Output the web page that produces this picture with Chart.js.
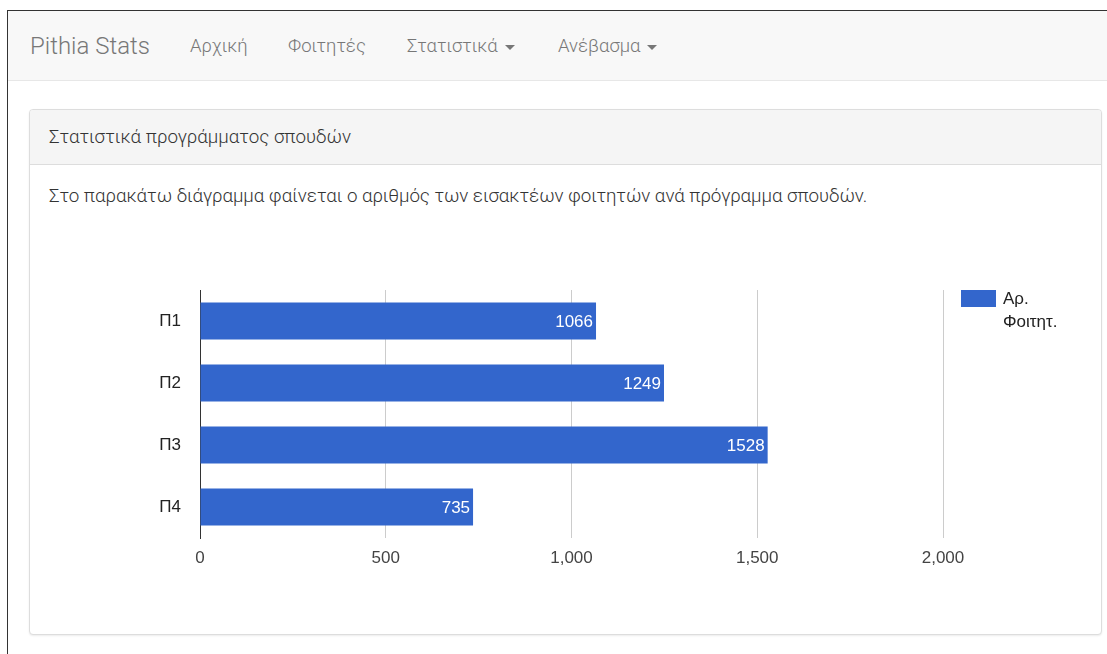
<!DOCTYPE html>
<html lang="el">
<head>
<meta charset="utf-8">
<title>Pithia Stats</title>
<script src="https://cdn.jsdelivr.net/npm/chart.js@4.4.1/dist/chart.umd.min.js"></script>
<style>
  html, body { margin: 0; padding: 0; background: #fff; }
  body { width: 1107px; height: 654px; position: relative; overflow: hidden; font-family: Roboto, "Noto Sans", sans-serif; }
  .frame { position: absolute; left: 7px; top: 10px; right: 0; bottom: 0; border-left: 1px solid #333; border-top: 1px solid #333; }
  .navbar { position: absolute; left: 0; top: 0; right: 0; height: 69px; background: #f8f8f8; border-bottom: 1px solid #e7e7e7; }
  .navbar span { position: absolute; top: 0; line-height: 71px; color: #777; font-size: 18.5px; font-weight: 300; white-space: nowrap; }
  .navbar .brand { font-size: 24px; color: #777; }
  .caret { display: inline-block; width: 0; height: 0; margin-left: 7px; vertical-align: middle; border-top: 5px solid #777; border-left: 5px solid transparent; border-right: 5px solid transparent; }
  .panel { position: absolute; left: 21px; top: 98px; width: 1071px; height: 524px; border: 1px solid #ddd; border-radius: 4px; box-shadow: 0 1px 2px rgba(0,0,0,0.08); background: #fff; }
  .panel-heading { height: 54px; background: #f5f5f5; border-bottom: 1px solid #ddd; border-radius: 3px 3px 0 0; padding-left: 19px; line-height: 55px; font-size: 18.8px; font-weight: 300; color: #333; }
  .panel-body p { margin: 0; position: absolute; left: 19px; top: 75px; font-size: 18.8px; letter-spacing: -0.05px; font-weight: 300; color: #333; white-space: nowrap; }
  #chartBox { position: absolute; left: 140px; top: 280px; width: 960px; height: 300px; }
</style>
</head>
<body>
<div class="frame">
  <div class="navbar">
    <span class="brand" style="left:22px">Pithia Stats</span>
    <span style="left:182px">Αρχική</span>
    <span style="left:280px">Φοιτητές</span>
    <span style="left:399px">Στατιστικά<i class="caret"></i></span>
    <span style="left:550px">Ανέβασμα<i class="caret"></i></span>
  </div>
  <div class="panel">
    <div class="panel-heading">Στατιστικά προγράμματος σπουδών</div>
    <div class="panel-body">
      <p>Στο παρακάτω διάγραμμα φαίνεται ο αριθμός των εισακτέων φοιτητών ανά πρόγραμμα σπουδών.</p>
    </div>
  </div>
</div>
<div id="chartBox"><canvas id="programChart"></canvas></div>

<script>
const programs = ['Π1', 'Π2', 'Π3', 'Π4'];
const students = [1066, 1249, 1528, 735];
const xTicks = [0, 500, 1000, 1500, 2000];
const seriesLabel = 'Αρ. Φοιτητ.';
const seriesLabelLines = ['Αρ.', 'Φοιτητ.'];

const barColor = '#3366cc';
const chartFont = 'Arial, "Liberation Sans", sans-serif';

// white value labels at the end of each bar
const barValues = {
    id: 'barValues',
    afterDatasetsDraw(chart) {
        const ctx = chart.ctx;
        const meta = chart.getDatasetMeta(0);
        ctx.save();
        ctx.font = '17px ' + chartFont;
        ctx.fillStyle = '#ffffff';
        ctx.textAlign = 'right';
        ctx.textBaseline = 'middle';
        meta.data.forEach((bar, i) => {
            ctx.fillText(String(chart.data.datasets[0].data[i]), bar.x - 3, bar.y + 1);
        });
        ctx.restore();
    }
};

// legend on the right, label wrapped over two lines
const sideLegend = {
    id: 'sideLegend',
    afterDraw(chart) {
        const ctx = chart.ctx;
        const area = chart.chartArea;
        const x = area.right + 18;
        const y = area.top;
        ctx.save();
        ctx.fillStyle = barColor;
        ctx.fillRect(x, y, 35, 17);
        ctx.font = '17px ' + chartFont;
        ctx.fillStyle = '#222222';
        ctx.textAlign = 'left';
        ctx.textBaseline = 'middle';
        seriesLabelLines.forEach((line, i) => {
            ctx.fillText(line, x + 42, y + 9 + i * 23);
        });
        ctx.restore();
    }
};

new Chart(document.getElementById('programChart'), {
    type: 'bar',
    data: {
        labels: programs,
        datasets: [{
            label: seriesLabel,
            data: students,
            backgroundColor: barColor,
            borderWidth: 0,
            barPercentage: 0.6,
            categoryPercentage: 1
        }]
    },
    options: {
        indexAxis: 'y',
        responsive: true,
        maintainAspectRatio: false,
        animation: false,
        locale: 'en-US',
        layout: { padding: { top: 10, right: 157, bottom: 0, left: 0 } },
        plugins: {
            legend: { display: false },
            tooltip: { enabled: false }
        },
        scales: {
            x: {
                min: xTicks[0],
                max: xTicks[xTicks.length - 1],
                afterBuildTicks: (axis) => { axis.ticks = xTicks.map(v => ({ value: v })); },
                afterFit: (axis) => { axis.height = 42; axis.paddingLeft = 0; axis.paddingRight = 0; },
                grid: {
                    color: (c) => c.tick && c.tick.value === 0 ? 'rgba(0,0,0,0)' : '#cccccc',
                    lineWidth: 1,
                    drawTicks: false
                },
                border: { display: false },
                ticks: {
                    color: '#444444',
                    font: { family: chartFont, size: 17 },
                    padding: 10
                }
            },
            y: {
                afterFit: (axis) => { axis.width = 60; axis.paddingTop = 0; axis.paddingBottom = 0; },
                grid: { display: false, drawTicks: false },
                border: { display: true, color: '#333333', width: 1 },
                ticks: {
                    color: '#222222',
                    font: { family: chartFont, size: 17 },
                    padding: 19
                }
            }
        }
    },
    plugins: [barValues, sideLegend]
});
</script>
</body>
</html>
